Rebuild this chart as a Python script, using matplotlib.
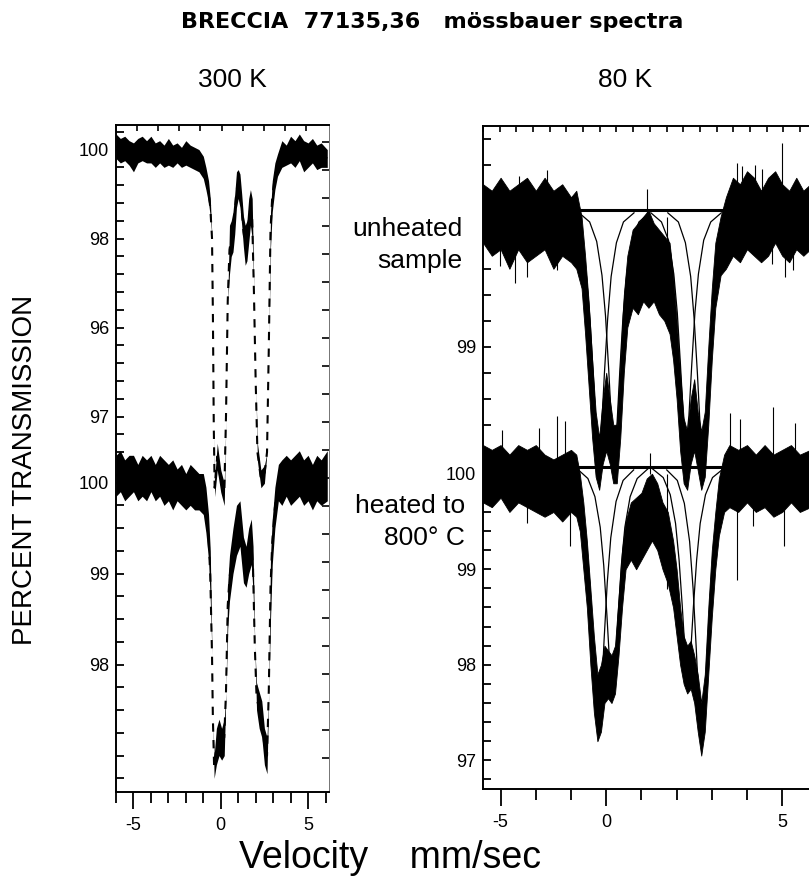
import numpy as np
import matplotlib
matplotlib.use('Agg')
import matplotlib.pyplot as plt

plt.rcParams['font.family'] = ['Liberation Sans', 'DejaVu Sans']

# -----------------------------
# 300 K spectra (left panel), percent transmission, lo / hi of the noise band
# -----------------------------
ul_vel = [-6.0, -5.75, -5.5, -5.25, -5.0, -4.75, -4.5, -4.25, -4.0, -3.75, -3.5, -3.25,
          -3.0, -2.75, -2.5, -2.25, -2.0, -1.75, -1.5, -1.25, -1.0, -0.85, -0.7, -0.6,
          -0.5, -0.45, -0.4, -0.35, -0.2, 0.0, 0.2, 0.3, 0.4, 0.5, 0.6, 0.7, 0.8, 0.9,
          1.0, 1.1, 1.2, 1.3, 1.4, 1.5, 1.6, 1.7, 1.8, 1.9, 2.0, 2.1, 2.3, 2.5, 2.65,
          2.75, 2.85, 2.95, 3.1, 3.25, 3.5, 3.75, 4.0, 4.25, 4.5, 4.75, 5.0, 5.25, 5.5,
          5.75, 6.1]
ul_lo = [99.80, 99.70, 99.75, 99.65, 99.50, 99.70, 99.75, 99.70, 99.70, 99.60, 99.70, 99.60,
         99.65, 99.60, 99.70, 99.60, 99.65, 99.60, 99.55, 99.50, 99.35, 99.10, 98.80, 98.50,
         98.0, 96.3, 93.8, 92.2, 92.8, 92.3, 92.0, 94.0, 96.6, 97.2, 97.6, 97.7, 98.1, 98.7,
         98.9, 98.7, 98.3, 97.8, 97.4, 97.5, 97.9, 98.3, 98.0, 96.8, 94.8, 93.0, 92.4, 92.5, 93.2,
         95.5, 97.8, 98.6, 99.1, 99.4, 99.6, 99.65, 99.7, 99.6, 99.75, 99.5, 99.6, 99.7, 99.55,
         99.6, 99.6]
ul_hi = [100.35, 100.25, 100.30, 100.20, 100.15, 100.25, 100.30, 100.20, 100.30, 100.15, 100.20, 100.10,
         100.25, 100.10, 100.15, 100.05, 100.20, 100.10, 100.05, 100.00, 99.85, 99.60, 99.30, 98.90,
         98.0, 96.3, 93.8, 92.6, 93.4, 92.8, 92.5, 94.0, 96.6, 98.3, 98.4, 98.6, 99.0, 99.5,
         99.55, 99.45, 99.0, 98.5, 98.3, 98.4, 98.9, 99.1, 98.9, 96.8, 94.8, 93.4, 92.8, 92.9, 93.2,
         95.5, 98.6, 99.3, 99.7, 99.9, 100.2, 100.1, 100.3, 100.2, 100.35, 100.2, 100.15, 100.25, 100.1,
         100.15, 100.0]

ll_vel = [-6.0, -5.75, -5.5, -5.25, -5.0, -4.75, -4.5, -4.25, -4.0, -3.75, -3.5, -3.25,
          -3.0, -2.75, -2.5, -2.25, -2.0, -1.75, -1.5, -1.25, -1.0, -0.85, -0.7, -0.6,
          -0.5, -0.45, -0.38, -0.25, -0.1, 0.05, 0.2, 0.3, 0.4, 0.5, 0.7, 0.9, 1.1, 1.3,
          1.45, 1.6, 1.75, 1.85, 1.95, 2.05, 2.2, 2.35, 2.5, 2.65, 2.75, 2.85, 2.95, 3.1,
          3.3, 3.5, 3.75, 4.0, 4.25, 4.5, 4.75, 5.0, 5.25, 5.5, 5.75, 6.1]
ll_lo = [99.85, 99.90, 99.80, 99.85, 99.90, 99.80, 99.85, 99.80, 99.90, 99.80, 99.85, 99.75,
         99.80, 99.70, 99.80, 99.75, 99.70, 99.75, 99.70, 99.70, 99.65, 99.45, 99.15, 98.70,
         98.1, 97.4, 96.75, 96.9, 97.0, 96.95, 97.0, 97.7, 98.4, 98.7, 99.0, 99.2, 99.3, 98.9,
         98.85, 99.0, 99.1, 98.8, 98.2, 97.5, 97.3, 97.2, 96.9, 96.8, 97.7, 98.5, 99.1, 99.5,
         99.8, 99.75, 99.85, 99.75, 99.80, 99.85, 99.75, 99.80, 99.70, 99.80, 99.75, 99.80]
ll_hi = [100.30, 100.35, 100.25, 100.30, 100.30, 100.20, 100.30, 100.25, 100.30, 100.20, 100.30, 100.25,
         100.20, 100.25, 100.15, 100.20, 100.10, 100.20, 100.15, 100.10, 100.10, 99.95, 99.65, 99.25,
         98.1, 97.4, 97.0, 97.3, 97.4, 97.3, 97.4, 97.7, 98.9, 99.2, 99.5, 99.75, 99.8, 99.4,
         99.3, 99.5, 99.6, 99.3, 98.2, 97.8, 97.7, 97.6, 97.3, 97.2, 97.7, 99.2, 99.6, 99.95,
         100.2, 100.25, 100.30, 100.25, 100.30, 100.35, 100.25, 100.30, 100.20, 100.30, 100.25, 100.35]

# -----------------------------
# 80 K spectra (right panel)
# -----------------------------
ur_vel = [-3.5, -3.25, -3.0, -2.75, -2.5, -2.25, -2.0, -1.75, -1.5, -1.25, -1.0, -0.85,
          -0.7, -0.6, -0.5, -0.4, -0.3, -0.2, -0.1, 0.0, 0.1, 0.2, 0.3, 0.4, 0.5, 0.6,
          0.75, 0.9, 1.05, 1.2, 1.35, 1.5, 1.65, 1.8, 1.9, 2.0, 2.1, 2.2, 2.3, 2.4, 2.5,
          2.6, 2.7, 2.8, 2.9, 3.0, 3.1, 3.25, 3.4, 3.6, 3.8, 4.0, 4.2, 4.4, 4.6, 4.8,
          5.0, 5.2, 5.4, 5.6, 5.8]
ur_lo = [99.80, 99.70, 99.75, 99.60, 99.75, 99.65, 99.70, 99.75, 99.60, 99.70, 99.65, 99.60,
         99.45, 99.10, 98.70, 98.30, 98.00, 97.90, 98.10, 98.20, 98.10, 97.95, 97.95, 98.30, 98.80, 99.15,
         99.30, 99.25, 99.35, 99.30, 99.35, 99.25, 99.20, 99.10, 98.90, 98.60, 98.20, 97.95, 97.90, 98.10, 98.20,
         98.05, 97.90, 98.00, 98.40, 98.90, 99.30, 99.55, 99.60, 99.70, 99.65, 99.75, 99.70, 99.65, 99.70, 99.80,
         99.70, 99.65, 99.75, 99.70, 99.75]
ur_hi = [100.25, 100.20, 100.30, 100.20, 100.25, 100.30, 100.20, 100.30, 100.20, 100.25, 100.15, 100.20,
         100.00, 99.70, 99.35, 98.90, 98.50, 98.30, 98.60, 98.80, 98.60, 98.40, 98.40, 98.90, 99.40, 99.70,
         99.90, 99.95, 100.00, 100.05, 99.95, 99.90, 99.85, 99.80, 99.55, 99.20, 98.80, 98.45, 98.35, 98.60, 98.75,
         98.50, 98.35, 98.50, 99.00, 99.45, 99.80, 100.00, 100.15, 100.30, 100.25, 100.35, 100.30, 100.20, 100.30, 100.35,
         100.25, 100.20, 100.30, 100.20, 100.25]

lr_vel = [-3.5, -3.25, -3.0, -2.75, -2.5, -2.25, -2.0, -1.75, -1.5, -1.25, -1.0, -0.85,
          -0.75, -0.65, -0.55, -0.45, -0.35, -0.25, -0.15, -0.05, 0.05, 0.15, 0.25, 0.35,
          0.45, 0.55, 0.7, 0.85, 1.0, 1.15, 1.3, 1.45, 1.6, 1.75, 1.9, 2.0, 2.1, 2.2, 2.3,
          2.4, 2.5, 2.6, 2.7, 2.8, 2.9, 3.0, 3.1, 3.2, 3.35, 3.5, 3.75, 4.0, 4.25, 4.5,
          4.75, 5.0, 5.25, 5.5, 5.8]
lr_lo = [99.70, 99.65, 99.75, 99.60, 99.70, 99.65, 99.60, 99.55, 99.60, 99.50, 99.60, 99.55,
         99.40, 99.00, 98.60, 98.00, 97.50, 97.20, 97.30, 97.60, 97.65, 97.60, 97.70, 98.10,
         98.60, 99.00, 99.10, 99.00, 99.10, 99.20, 99.30, 99.20, 99.00, 98.85, 98.60, 98.30, 98.00, 97.80, 97.70,
         97.75, 97.60, 97.30, 97.05, 97.30, 97.90, 98.50, 99.00, 99.35, 99.60, 99.65, 99.60, 99.70, 99.60, 99.65,
         99.55, 99.60, 99.70, 99.60, 99.65]
lr_hi = [100.30, 100.25, 100.30, 100.20, 100.30, 100.25, 100.30, 100.20, 100.15, 100.20, 100.25, 100.20,
         100.00, 99.70, 99.30, 98.80, 98.30, 97.90, 98.00, 98.20, 98.15, 98.10, 98.20, 98.70,
         99.20, 99.50, 99.70, 99.75, 99.80, 99.95, 100.00, 99.90, 99.70, 99.60, 99.30, 99.00, 98.60, 98.30, 98.20,
         98.25, 98.10, 97.90, 97.60, 97.90, 98.60, 99.20, 99.60, 99.95, 100.20, 100.30, 100.25, 100.30, 100.20, 100.30,
         100.20, 100.25, 100.30, 100.20, 100.25]

# single tall noise spikes (velocity, tip value)
ur_spike_vel = [-3.01, -2.59, -2.49, -2.25, -1.69, -1.40, 1.16, 1.72, 3.71, 3.85, 4.00, 4.23, 4.42, 4.71, 4.99, 5.09, 5.32]
ur_spike_tip = [99.62, 99.49, 100.31, 99.54, 100.36, 99.59, 100.21, 99.23, 100.41, 100.39, 100.21, 100.40, 100.37, 99.64, 100.57, 99.54, 99.59]
lr_spike_vel = [-2.96, -2.25, -1.92, -1.40, -1.16, -1.02, 1.25, 1.72, 3.52, 3.71, 3.81, 4.18, 4.75, 5.04, 5.37]
lr_spike_tip = [100.46, 99.48, 100.48, 100.60, 100.55, 99.24, 100.22, 98.79, 100.64, 98.89, 100.57, 99.45, 100.70, 99.24, 100.53]

# fitted component lines (velocity, transmission)
ur_fit_base = 100.05
lr_fit_base = 100.07
ur_fits = [
    ([-1.21, -0.91, -0.71, -0.56, -0.46, -0.37, -0.29, -0.21, -0.13, -0.05, 0.04, 0.14, 0.29, 0.49, 0.79],
     [100.03, 99.96, 99.80, 99.54, 99.21, 98.80, 98.38, 98.15, 98.38, 98.80, 99.21, 99.54, 99.80, 99.96, 100.03]),
    ([-0.77, -0.47, -0.27, -0.12, -0.02, 0.07, 0.15, 0.23, 0.31, 0.39, 0.48, 0.58, 0.73, 0.93, 1.23],
     [100.03, 99.96, 99.81, 99.55, 99.24, 98.83, 98.42, 98.20, 98.42, 98.83, 99.24, 99.55, 99.81, 99.96, 100.03]),
    ([1.27, 1.57, 1.77, 1.92, 2.02, 2.11, 2.19, 2.27, 2.35, 2.43, 2.52, 2.62, 2.77, 2.97, 3.27],
     [100.03, 99.96, 99.82, 99.56, 99.26, 98.86, 98.47, 98.25, 98.47, 98.86, 99.26, 99.56, 99.82, 99.96, 100.03]),
    ([1.75, 2.05, 2.25, 2.40, 2.50, 2.59, 2.67, 2.75, 2.83, 2.91, 3.00, 3.10, 3.25, 3.45, 3.75],
     [100.03, 99.96, 99.80, 99.54, 99.21, 98.80, 98.38, 98.15, 98.38, 98.80, 99.21, 99.54, 99.80, 99.96, 100.03]),
]
lr_fits = [
    ([-1.22, -0.92, -0.72, -0.57, -0.47, -0.38, -0.30, -0.22, -0.14, -0.06, 0.03, 0.13, 0.28, 0.48, 0.78],
     [100.04, 99.93, 99.71, 99.33, 98.86, 98.26, 97.65, 97.32, 97.65, 98.26, 98.86, 99.33, 99.71, 99.93, 100.04]),
    ([-0.82, -0.52, -0.32, -0.17, -0.07, 0.02, 0.10, 0.18, 0.26, 0.34, 0.43, 0.53, 0.68, 0.88, 1.18],
     [100.05, 99.95, 99.76, 99.44, 99.04, 98.52, 98.00, 97.72, 98.00, 98.52, 99.04, 99.44, 99.76, 99.95, 100.05]),
    ([1.32, 1.62, 1.82, 1.97, 2.07, 2.16, 2.24, 2.32, 2.40, 2.48, 2.57, 2.67, 2.82, 3.02, 3.32],
     [100.05, 99.96, 99.78, 99.48, 99.10, 98.62, 98.13, 97.87, 98.13, 98.62, 99.10, 99.48, 99.78, 99.96, 100.05]),
    ([1.72, 2.02, 2.22, 2.37, 2.47, 2.56, 2.64, 2.72, 2.80, 2.88, 2.97, 3.07, 3.22, 3.42, 3.72],
     [100.04, 99.93, 99.69, 99.29, 98.79, 98.16, 97.52, 97.17, 97.52, 98.16, 98.79, 99.29, 99.69, 99.93, 100.04]),
]

# tick labels as printed
left_upper_labels = {100: '100', 98: '98', 96: '96', 94: '97'}
left_lower_labels = {100: '100', 99: '99', 98: '98'}
right_upper_labels = {99: '99'}
right_lower_labels = {100: '100', 99: '99', 98: '98', 97: '97'}
right_xlabels = {-3: '-5', 0: '0', 5: '5'}


# -----------------------------
# helpers: place a stacked spectrum on the shared axis
# -----------------------------
def stack(t, offset, scale):
    return offset + scale * (np.asarray(t, dtype=float) - 100.0)


def draw_band(ax, vel, lo, hi, offset, scale, dashed=False):
    lo_s = stack(lo, offset, scale)
    hi_s = stack(hi, offset, scale)
    if dashed:
        # sparse points on the steep walls show up as dashes
        ax.fill_between(vel, lo_s, hi_s, color='k', lw=0, zorder=3)
        ax.plot(vel, (lo_s + hi_s) / 2, color='k', lw=1.5,
                ls=(0, (4, 4)), zorder=3)
    else:
        ax.fill_between(vel, lo_s, hi_s, color='k', lw=0.6, zorder=3)
        ax.plot(vel, (lo_s + hi_s) / 2, color='k', lw=1.2, zorder=3)


fig = plt.figure(figsize=(8.09, 8.80), dpi=100)

# -----------------------------
# 300 K panel
# -----------------------------
UL_OFF, UL_SC = 103.66, 0.489
axL = fig.add_axes([116 / 809, 88 / 880, 213 / 809, 667 / 880])
axL.set_xlim(-6.0, 6.2)
axL.set_ylim(96.60, 103.93)

draw_band(axL, ul_vel, ul_lo, ul_hi, UL_OFF, UL_SC, dashed=True)
draw_band(axL, ll_vel, ll_lo, ll_hi, 100.0, 1.0, dashed=True)

major_y = [UL_OFF + UL_SC * (k - 100) for k in left_upper_labels] + list(left_lower_labels)
major_lab = list(left_upper_labels.values()) + list(left_lower_labels.values())
axL.set_yticks(major_y, major_lab)
minor_y = list(stack(np.arange(100.4, 93.1, -0.4), UL_OFF, UL_SC)) + list(np.arange(100.0, 96.7, -0.25))
axL.set_yticks(minor_y, minor=True)
axL.set_xticks([-5, 0, 5], ['-5', '0', '5'])
axL.set_xticks(np.arange(-6, 7), minor=True)
axL.tick_params(axis='y', which='both', direction='in', length=6, width=1.3,
                labelsize=13, pad=5)
axL.tick_params(axis='x', which='major', direction='out', length=12, width=1.3,
                labelsize=13, pad=6)
axL.tick_params(axis='x', which='minor', direction='out', length=8, width=1.3)
for s in ['left', 'bottom', 'top']:
    axL.spines[s].set_linewidth(1.4)
axL.spines['right'].set_linewidth(0.7)
axL.spines['right'].set_color('0.45')

# inner tick rows on the right and top of the 300 K box
twL = axL.twinx()
twL.set_ylim(axL.get_ylim())
twL.set_yticks(np.arange(103.74, 96.7, -0.3077))
twL.tick_params(direction='in', length=5, width=1.2, labelright=False)
tpL = axL.twiny()
tpL.set_xlim(axL.get_xlim())
tpL.set_xticks(np.linspace(-4.8, 4.9, 9))
tpL.tick_params(direction='in', length=4, width=1.2, labeltop=False)
for t in (twL, tpL):
    for s in t.spines.values():
        s.set_visible(False)

# -----------------------------
# 80 K panel
# -----------------------------
UR_OFF, UR_SC = 102.69, 1.361
axR = fig.add_axes([483 / 809, 91 / 880, 334.4 / 809, 663 / 880])
axR.set_xlim(-3.5, 6.0)
axR.set_ylim(96.70, 103.64)

draw_band(axR, ur_vel, ur_lo, ur_hi, UR_OFF, UR_SC)
draw_band(axR, lr_vel, lr_lo, lr_hi, 100.0, 1.0)
axR.vlines(ur_spike_vel, stack([100.0] * len(ur_spike_vel), UR_OFF, UR_SC),
           stack(ur_spike_tip, UR_OFF, UR_SC), color='k', lw=0.8, zorder=3)
axR.vlines(lr_spike_vel, [100.0] * len(lr_spike_vel), lr_spike_tip,
           color='k', lw=0.8, zorder=3)

for fv, ft in ur_fits:
    axR.plot(fv, stack(ft, UR_OFF, UR_SC), color='k', lw=0.9, zorder=4)
for fv, ft in lr_fits:
    axR.plot(fv, ft, color='k', lw=0.9, zorder=4)
axR.plot([-1.0, 3.5], stack([ur_fit_base] * 2, UR_OFF, UR_SC), color='k', lw=2.2, zorder=4)
axR.plot([-1.0, 3.5], [lr_fit_base] * 2, color='k', lw=2.2, zorder=4)

ry = [UR_OFF + UR_SC * (k - 100) for k in right_upper_labels] + list(right_lower_labels)
rlab = list(right_upper_labels.values()) + list(right_lower_labels.values())
axR.set_yticks(ry, rlab)
rminor = list(stack(np.arange(100.6, 98.1, -0.2), UR_OFF, UR_SC)) + list(np.arange(100.0, 96.75, -0.2))
axR.set_yticks(rminor, minor=True)
axR.set_xticks(list(right_xlabels), list(right_xlabels.values()))
axR.set_xticks(np.arange(-3, 6), minor=True)
axR.tick_params(axis='y', which='both', direction='in', length=6, width=1.3,
                labelsize=13, pad=5)
axR.tick_params(axis='x', which='major', direction='out', length=12, width=1.3,
                labelsize=13, pad=6)
axR.tick_params(axis='x', which='minor', direction='out', length=8, width=1.3)
for s in ['left', 'bottom', 'top']:
    axR.spines[s].set_linewidth(1.4)
axR.spines['right'].set_visible(False)

tpR = axR.twiny()
tpR.set_xlim(axR.get_xlim())
tpR.set_xticks(np.arange(-3.5, 6.0, 0.474))
tpR.tick_params(direction='in', length=4, width=1.2, labeltop=False)
for s in tpR.spines.values():
    s.set_visible(False)

# -----------------------------
# texts
# -----------------------------
fig.text(432 / 809, 1 - 22 / 880, 'BRECCIA  77135,36   mössbauer spectra',
         ha='center', va='center', fontsize=16, fontweight='heavy',
         family=['DejaVu Sans'])
fig.text(232 / 809, 1 - 80 / 880, '300 K', ha='center', va='center', fontsize=19,
         family=['Liberation Sans Narrow', 'Liberation Sans'])
fig.text(625 / 809, 1 - 80 / 880, '80 K', ha='center', va='center', fontsize=19,
         family=['Liberation Sans Narrow', 'Liberation Sans'])
fig.text(25 / 809, 1 - 470 / 880, 'PERCENT TRANSMISSION', rotation=90,
         ha='center', va='center', fontsize=20)
fig.text(390 / 809, 1 - 858 / 880, 'Velocity    mm/sec', ha='center', va='center',
         fontsize=27)
fig.text(462 / 809, 1 - 245 / 880, 'unheated\nsample', ha='right', va='center',
         fontsize=19, linespacing=1.45)
fig.text(465 / 809, 1 - 522 / 880, 'heated to\n800° C', ha='right', va='center',
         fontsize=19, linespacing=1.45)

fig.savefig('out.png', dpi=100)
